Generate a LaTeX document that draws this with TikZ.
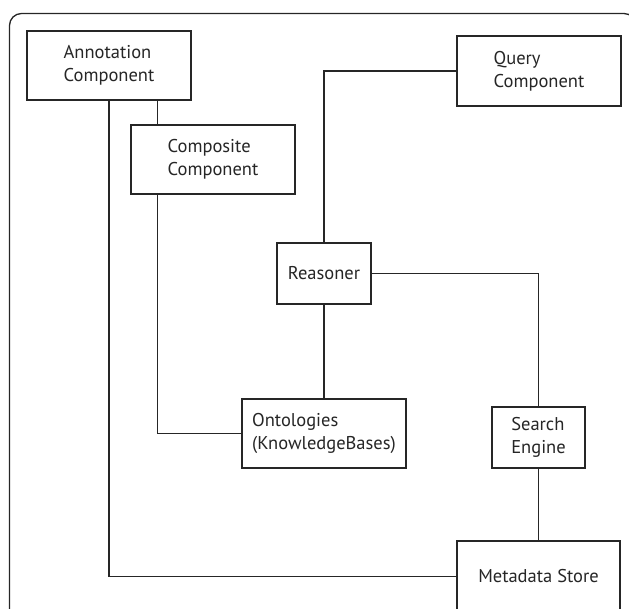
\documentclass[tikz,border=0pt]{standalone}
\usepackage{fontspec}
\setmainfont{PT Sans}
\usepackage{tikz}
\usetikzlibrary{positioning,calc}

\begin{document}
\begin{tikzpicture}[x=1pt, y=-1pt, line width=1.3pt,
    every node/.style={font=\fontsize{18.5}{23}\selectfont, text=black!85},
    comp/.style={draw=black!85, fill=white, align=left, inner sep=0pt,
      line width=1.3pt, minimum width=164pt, minimum height=69pt},
    smallcomp/.style={comp, minimum width=94pt, minimum height=61pt},
    link/.style={draw=black!85, line width=1.3pt}]
  \useasboundingbox (0,0) rectangle (629,609);
  % Outer frame (cut off at the bottom and right)
  \draw[black!85, line width=1.3pt, rounded corners=12pt]
    (9.5,620) -- (9.5,13.5) -- (636,13.5) -- (636,620);
  % Components
  \node[comp] (annot) at (109,65.5) {Annotation\\Component};
  \node[comp] (compo) at (213,159.5) {Composite\\Component};
  \node[comp, minimum height=70pt] (query) at (539,71) {Query\\Component};
  \node[smallcomp] (reas) at (324,273.5) {Reasoner};
  \node[comp] (onto) at (324,433.5) {Ontologies\\(KnowledgeBases)};
  \node[smallcomp, minimum width=93pt] (search) at (538.5,437.5) {Search\\Engine};
  \node[comp, minimum width=163pt, minimum height=71pt] (meta) at (538.5,576.5) {Metadata Store};
  % Connectors
  \coordinate (cleft) at ([xshift=27pt]compo.north west);
  \coordinate (cbot) at ([xshift=27pt]compo.south west);
  \draw[link] (cleft) -- (cleft |- annot.south);
  \draw[link] (annot.south) |- (meta.west);
  \draw[link] (cbot) |- (onto.west);
  \draw[link] (query.west) -| (reas.north);
  \draw[link] (reas.south) -- (onto.north);
  \draw[link] (reas.east) -| (search.north);
  \draw[link] (search.south) -- (meta.north);
\end{tikzpicture}
\end{document}
